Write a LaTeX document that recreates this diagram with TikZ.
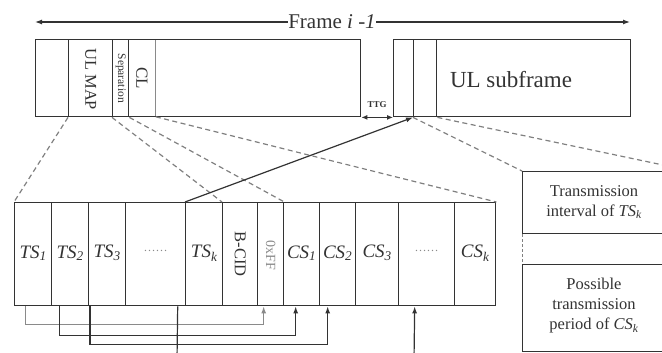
\documentclass[tikz,border=0pt]{standalone}
\usepackage{fontspec}
\setmainfont{Liberation Serif}
\usetikzlibrary{arrows.meta}
\definecolor{lc}{HTML}{333333}
\definecolor{dc}{HTML}{808080}
\definecolor{gc}{HTML}{8A8A8A}
\begin{document}
\begin{tikzpicture}[x=1pt,y=-1pt,
  box/.style={draw=lc, line width=1.4pt, inner sep=0pt, anchor=north west},
  thinbox/.style={draw=gc, line width=0.8pt, inner sep=0pt, anchor=north west},
  dsh/.style={draw=dc, line width=1.2pt, dash pattern=on 5pt off 3.5pt},
  conn/.style={draw=lc, line width=1.2pt},
  tipa/.style={-{Latex[length=7pt,width=5pt]}},
  tsf/.style={font=\fontsize{19}{21}\selectfont\itshape, inner sep=0pt},
  rotf/.style={rotate=-90, inner sep=0pt},
  dots/.style={text=gc, font=\fontsize{12}{14}\selectfont, inner sep=0pt},
  txt/.style={align=center, font=\fontsize{16.5}{20}\selectfont, inner sep=0pt, text=lc},
]
\useasboundingbox (0,0) rectangle (662,353);
\clip (0,0) rectangle (662,353);

% ---------- top frame arrow ----------
\coordinate (fl) at (35,22);
\coordinate (fr) at (630,22);
\node[fill=white, inner sep=0.5pt, font=\fontsize{21}{24}\selectfont, text=lc] (frame) at (332,22) {Frame \textit{i} \textit{-1}};
\draw[conn, tipa] (frame) -- (fl);
\draw[conn, tipa] (frame) -- (fr);

% ---------- top left box ----------
\node[thinbox, minimum width=27pt, minimum height=77pt] (cl) at (128,39) {};
\node[box, minimum width=33pt, minimum height=77pt] (a0) at (35,39) {};
\node[box, minimum width=44pt, minimum height=77pt] (ulmap) at (68,39) {};
\node[box, minimum width=16pt, minimum height=77pt] (sep) at (112,39) {};
\node[box, minimum width=325pt, minimum height=77pt] (dl) at (35,39) {};
\node[rotf, font=\fontsize{16.5}{18}\selectfont, text=lc] (ulmapt) at ([yshift=-1pt]ulmap.center) {UL MAP};
\node[rotf, font=\fontsize{11.5}{12}\selectfont, text=lc] (sept) at (sep.center) {Separation};
\node[rotf, font=\fontsize{17}{18}\selectfont, text=lc] (clt) at (cl.center) {CL};

% ---------- top right box ----------
\node[box, minimum width=20pt, minimum height=77pt] (r0) at (393,39) {};
\node[box, minimum width=23pt, minimum height=77pt] (r1) at (413,39) {};
\node[box, minimum width=194pt, minimum height=77pt] (ulsub) at (436,39) {};
\node[font=\fontsize{23}{26}\selectfont, text=lc, inner sep=0pt] (ulsubt) at (511,80) {UL subframe};

% TTG
\node[font=\fontsize{9}{10}\selectfont\bfseries, text=lc, inner sep=0pt] (ttg) at (377,105) {TTG};
\draw[conn, line width=1pt, {Latex[length=6pt,width=5pt]}-{Latex[length=6pt,width=5pt]}] (dl.south east) -- (r0.south west);

% ---------- bottom row ----------
\node[box, minimum width=37pt, minimum height=103pt] (ts1) at (14,202) {};
\node[box, minimum width=37pt, minimum height=103pt] (ts2) at (51,202) {};
\node[box, minimum width=37pt, minimum height=103pt] (ts3) at (88,202) {};
\node[box, minimum width=60pt, minimum height=103pt] (tsd) at (125,202) {};
\node[box, minimum width=37pt, minimum height=103pt] (tsk) at (185,202) {};
\node[box, minimum width=35pt, minimum height=103pt] (bcid) at (222,202) {};
\node[box, minimum width=26pt, minimum height=103pt] (xff) at (257,202) {};
\node[box, minimum width=36pt, minimum height=103pt] (cs1) at (283,202) {};
\node[box, minimum width=36pt, minimum height=103pt] (cs2) at (319,202) {};
\node[box, minimum width=43pt, minimum height=103pt] (cs3) at (355,202) {};
\node[box, minimum width=56pt, minimum height=103pt] (csd) at (398,202) {};
\node[box, minimum width=41pt, minimum height=103pt] (csk) at (454,202) {};

\node[tsf, text=lc] (ts1t) at ([yshift=1pt]ts1.center) {TS\textsubscript{1}};
\node[tsf, text=lc] (ts2t) at ([yshift=1pt]ts2.center) {TS\textsubscript{2}};
\node[tsf, text=lc] (ts3t) at ([yshift=1pt]ts3.center) {TS\textsubscript{3}};
\node[dots] (tsdt) at ([yshift=3pt]tsd.center) {\dots\dots};
\node[tsf, text=lc] (tskt) at ([yshift=1pt]tsk.center) {TS\textsubscript{k}};
\node[rotf, font=\fontsize{16.5}{18}\selectfont, text=lc] (bcidt) at ([yshift=0pt]bcid.center) {B-CID};
\node[rotf, font=\fontsize{14}{16}\selectfont, text=gc] (xfft) at ([yshift=-1pt]xff.center) {0xFF};
\node[tsf, text=lc] (cs1t) at ([yshift=1pt]cs1.center) {CS\textsubscript{1}};
\node[tsf, text=lc] (cs2t) at ([yshift=1pt]cs2.center) {CS\textsubscript{2}};
\node[tsf, text=lc] (cs3t) at ([yshift=1pt]cs3.center) {CS\textsubscript{3}};
\node[dots] (csdt) at ([yshift=3pt]csd.center) {\dots\dots};
\node[tsf, text=lc] (cskt) at ([yshift=1pt]csk.center) {CS\textsubscript{k}};

% ---------- right boxes ----------
\node[box, minimum width=168pt, minimum height=62pt] (tx) at (522,171) {};
\node[txt] (txt1) at (594,202) {Transmission\\interval of \textit{TS\textsubscript{k}}};
\node[box, minimum width=168pt, minimum height=87pt] (ps) at (522,264) {};
\node[txt] (txt2) at (594,306) {Possible\\transmission\\period of \textit{CS\textsubscript{k}}};
\draw[dsh, line width=0.9pt, dash pattern=on 3pt off 2pt] (tx.south west) -- (ps.north west);

% ---------- dashed mapping lines ----------
\draw[dsh] (ulmap.south west) -- (ts1.north west);
\draw[dsh] (sep.south west) -- (bcid.north west);
\draw[dsh] (sep.south east) -- (xff.north east);
\draw[dsh] (cl.south east) -- (csk.north east);
\draw[dsh] (r1.south west) -- (tx.north west);
\draw[dsh] (r1.south east) -- (tx.north east);

% ---------- solid arrow TS_k -> UL subframe ----------
\draw[conn, tipa] (tsk.north west) -- (r1.south west);

% ---------- bottom connectors ----------
\draw[conn, draw=gc, tipa] ([xshift=-7.5pt]ts1.south) -- ++(0,18) -| ([xshift=-7pt]xff.south);
\draw[conn, tipa] ([xshift=-10.5pt]ts2.south) -- ++(0,29) -| ([xshift=-6pt]cs1.south);
\draw[conn, tipa] ([xshift=2pt]ts3.south west) -- ++(0,38) -| ([xshift=-10pt]cs2.south);
\coordinate (lowa) at (177,360);
\draw[conn] ([xshift=22pt]tsd.south) -- (lowa);
\coordinate (lowb) at (414,360);
\draw[conn, tipa] (lowb) -- ([xshift=-12pt]csd.south);
\end{tikzpicture}
\end{document}
